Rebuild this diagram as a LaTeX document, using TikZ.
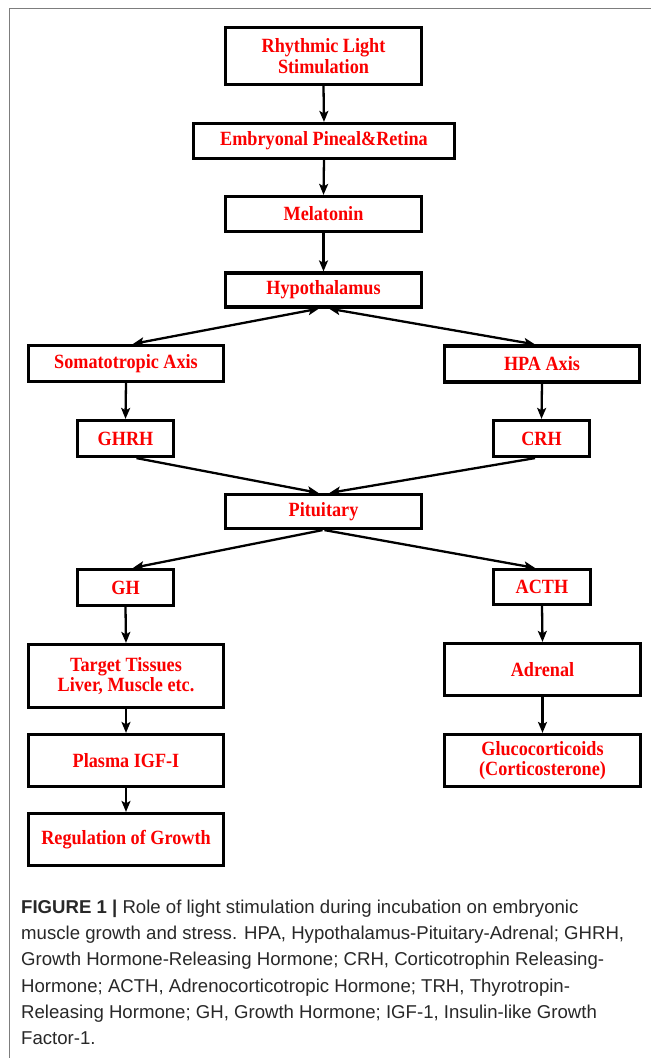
\documentclass[tikz,border=0pt]{standalone}
\usepackage{fontspec}
\usetikzlibrary{arrows.meta}
\newfontfamily\boxfont[FakeStretch=0.9]{Liberation Serif}
\newfontfamily\capfont{Liberation Sans}
\definecolor{boxred}{RGB}{250,0,0}
\definecolor{captext}{RGB}{40,40,40}
\definecolor{framegray}{RGB}{125,125,125}
\tikzset{
  fbox/.style={draw=black, line width=3.2pt, fill=white, inner sep=0pt, align=center,
    text=boxred, font=\boxfont\bfseries\fontsize{20.2}{20.5}\selectfont},
  arr/.style={line width=2.3pt, -{Stealth[length=11pt,width=9pt,inset=2.5pt]}},
  darr/.style={line width=2.3pt, {Stealth[length=11pt,width=9pt,inset=2.5pt]}-{Stealth[length=11pt,width=9pt,inset=2.5pt]}},
  frameline/.style={draw=framegray, line width=1.4pt}
}
\begin{document}
\begin{tikzpicture}[x=1pt,y=-1pt]
\useasboundingbox (0,0) rectangle (651,1058);
\fill[white] (0,0) rectangle (651,1058);
% frame
\draw[frameline] (9.5,1058) -- (9.5,8.5) -- (651,8.5);
% boxes
\node[fbox, minimum width=196pt, minimum height=57pt] (rls) at (323.5,56) {Rhythmic Light\\Stimulation};
\node[fbox, minimum width=261pt, minimum height=35pt] (emb) at (324,141) {Embryonal Pineal\&Retina};
\node[fbox, minimum width=196pt, minimum height=35pt] (mel) at (323.5,214) {Melatonin};
\node[fbox, minimum width=196pt, minimum height=34pt] (hyp) at (323.5,290) {Hypothalamus};
\node[fbox, minimum width=195pt, minimum height=36pt] (som) at (126,363.5) {Somatotropic Axis};
\node[fbox, minimum width=195pt, minimum height=36pt] (hpa) at (542,364) {HPA Axis};
\node[fbox, minimum width=96pt, minimum height=36pt] (ghrh) at (125.5,438.5) {GHRH};
\node[fbox, minimum width=96pt, minimum height=36pt] (crh) at (541.5,438.5) {CRH};
\node[fbox, minimum width=196pt, minimum height=34pt] (pit) at (323.5,511.5) {Pituitary};
\node[fbox, minimum width=96pt, minimum height=36pt] (gh) at (125.5,587.5) {GH};
\node[fbox, minimum width=97pt, minimum height=35pt] (acth) at (542,587) {ACTH};
\node[fbox, minimum width=195pt, minimum height=63pt] (tt) at (126,676) {Target Tissues\\Liver, Muscle etc.};
\node[fbox, minimum width=196pt, minimum height=52pt] (adr) at (542.5,669.5) {Adrenal};
\node[fbox, minimum width=195pt, minimum height=52pt] (pl) at (126,760.5) {Plasma IGF-I};
\node[fbox, minimum width=196pt, minimum height=52pt] (glu) at (542.5,760.5) {Glucocorticoids\\(Corticosterone)};
\node[fbox, minimum width=195pt, minimum height=52pt] (reg) at (126,839.5) {Regulation of Growth};
% connectors
\draw[arr] (rls.south) -- (emb.north);
\draw[arr] (emb.south) -- (mel.north);
\draw[arr] (mel.south) -- (hyp.north);
\draw[darr] ([xshift=-4.5pt]hyp.south) -- ([xshift=7pt]som.north);
\draw[darr] ([xshift=5.5pt]hyp.south) -- ([xshift=-7pt]hpa.north);
\draw[arr] (som.south) -- (ghrh.north);
\draw[arr] (hpa.south) -- (crh.north);
\draw[arr] ([xshift=11pt]ghrh.south) -- ([xshift=-5pt]pit.north);
\draw[arr] ([xshift=-6.5pt]crh.south) -- ([xshift=6pt]pit.north);
\draw[arr] ([xshift=-1pt]pit.south) -- ([xshift=7.5pt]gh.north);
\draw[arr] ([xshift=1pt]pit.south) -- ([xshift=-7pt]acth.north);
\draw[arr] (gh.south) -- (tt.north);
\draw[arr] (tt.south) -- (pl.north);
\draw[arr] (pl.south) -- (reg.north);
\draw[arr] (acth.south) -- (adr.north);
\draw[arr] (adr.south) -- (glu.north);
% caption
\node[anchor=north west, inner sep=0pt, align=left, text=captext,
  font=\capfont\fontsize{18.6}{26.3}\selectfont] (cap) at (21,899.5)
  {\textbf{FIGURE 1 |} Role of light stimulation during incubation on embryonic\\
   muscle growth and stress. HPA, Hypothalamus-Pituitary-Adrenal; GHRH,\\
   Growth Hormone-Releasing Hormone; CRH, Corticotrophin Releasing-\\
   Hormone; ACTH, Adrenocorticotropic Hormone; TRH, Thyrotropin-\\
   Releasing Hormone; GH, Growth Hormone; IGF-1, Insulin-like Growth\\
   Factor-1.};
\end{tikzpicture}
\end{document}
